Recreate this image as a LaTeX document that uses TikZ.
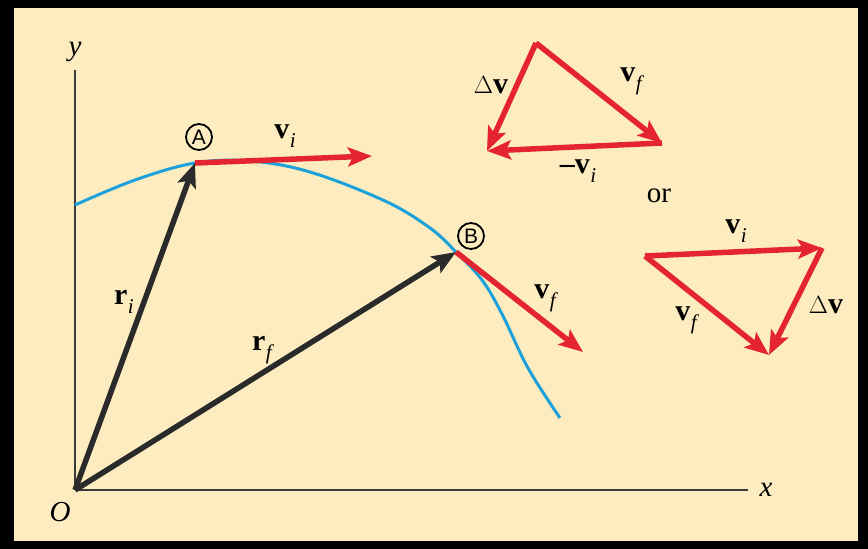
\documentclass[tikz,border=0pt]{standalone}
\usepackage{fontspec}
\setmainfont{Liberation Serif}
\newfontfamily\circfont{Liberation Sans}
\usetikzlibrary{arrows.meta}
\definecolor{bg}{HTML}{FDECBF}
\definecolor{vred}{HTML}{E42530}
\definecolor{curveblue}{HTML}{1DA1DB}
\definecolor{darkarrow}{HTML}{2A2A2A}
\definecolor{axiscol}{HTML}{3A3A3A}
\newcommand{\bvsub}[2]{\textbf{#1}\kern0.5pt\raisebox{-0.3em}{\fontsize{21}{21}\selectfont\itshape #2}}
\begin{document}
\begin{tikzpicture}[x=1pt,y=-1pt,
  redarrow/.style={draw=vred, line width=5.5pt, -{Stealth[length=24pt,width=19pt,inset=5pt]}},
  blackarrow/.style={draw=darkarrow, line width=5.5pt, -{Stealth[length=24pt,width=19pt,inset=5pt]}},
  axisline/.style={draw=axiscol, line width=2.8pt},
  lbl/.style={font=\fontsize{30}{34}\selectfont, inner sep=0pt},
  ptlabel/.style={circle, draw=black, line width=1.8pt, inner sep=0pt, minimum size=26pt, font=\circfont\fontsize{21}{21}\selectfont}
]
\useasboundingbox (0,0) rectangle (868,549);
\fill[black] (0,0) rectangle (868,549);
\fill[bg] (14,8) rectangle (858,541);

% points
\coordinate (O) at (75,490);
\coordinate (ytop) at (75,70);
\coordinate (xend) at (748,490);
\coordinate (A) at (195,163);
\coordinate (B) at (456,252);
\coordinate (viend) at (372,156);
\coordinate (vfend) at (583,352);

% axes
\draw[axisline] (O) -- (ytop);
\draw[axisline] (O) -- (xend);
\node[lbl, font=\fontsize{29}{33}\selectfont\itshape] (ylab) at (75,52) {y};
\node[lbl, font=\fontsize{29}{33}\selectfont\itshape] (xlab) at (766,490) {x};
\node[lbl, font=\fontsize{29}{33}\selectfont\itshape] (Olab) at (60,512) {O};

% trajectory
\draw[curveblue, line width=3pt] plot[smooth, tension=0.6] coordinates {(75,205) (135,180) (195,163) (250,161) (310,172) (385,201) (430,228) (456,252) (482,280) (502,314) (528,368) (560,418)};

% position vectors
\draw[blackarrow] (O) -- (A);
\draw[blackarrow] (O) -- (B);
\node[lbl] (rilab) at (124,302) {\bvsub{r}{i}};
\node[lbl] (rflab) at (262,350) {\bvsub{r}{f}};

% velocity vectors
\draw[redarrow] (A) -- (viend);
\draw[redarrow] (B) -- (vfend);
\node[lbl] (vilab) at (285,136) {\bvsub{v}{i}};
\node[lbl] (vflab) at (545,298) {\bvsub{v}{f}};

\node[ptlabel] (Alab) at (199,137) {A};
\node[ptlabel] (Blab) at (471,236) {B};

% top triangle
\coordinate (T1) at (536,43);
\coordinate (T2) at (662,143);
\coordinate (T3) at (487,151);
\draw[redarrow] (T1) -- (T2);
\draw[redarrow] (T2) -- (T3);
\draw[redarrow] (T1) -- (T3);
\node[lbl] (dv1) at (491,85) {$\Delta$\textbf{v}};
\node[lbl] (vf1) at (631,81) {\bvsub{v}{f}};
\node[lbl] (mvi) at (578,171) {\textbf{--v}\kern0.5pt\raisebox{-0.3em}{\fontsize{21}{21}\selectfont\itshape i}};

\node[lbl, font=\fontsize{29}{33}\selectfont] (orlab) at (659,196) {or};

% bottom triangle
\coordinate (S1) at (645,256);
\coordinate (S2) at (822,248);
\coordinate (S3) at (769,355);
\draw[redarrow] (S1) -- (S2);
\draw[redarrow] (S1) -- (S3);
\draw[redarrow] (S2) -- (S3);
\node[lbl] (vi2) at (736,231) {\bvsub{v}{i}};
\node[lbl] (dv2) at (826,305) {$\Delta$\textbf{v}};
\node[lbl] (vf2) at (686,320) {\bvsub{v}{f}};
\end{tikzpicture}
\end{document}
